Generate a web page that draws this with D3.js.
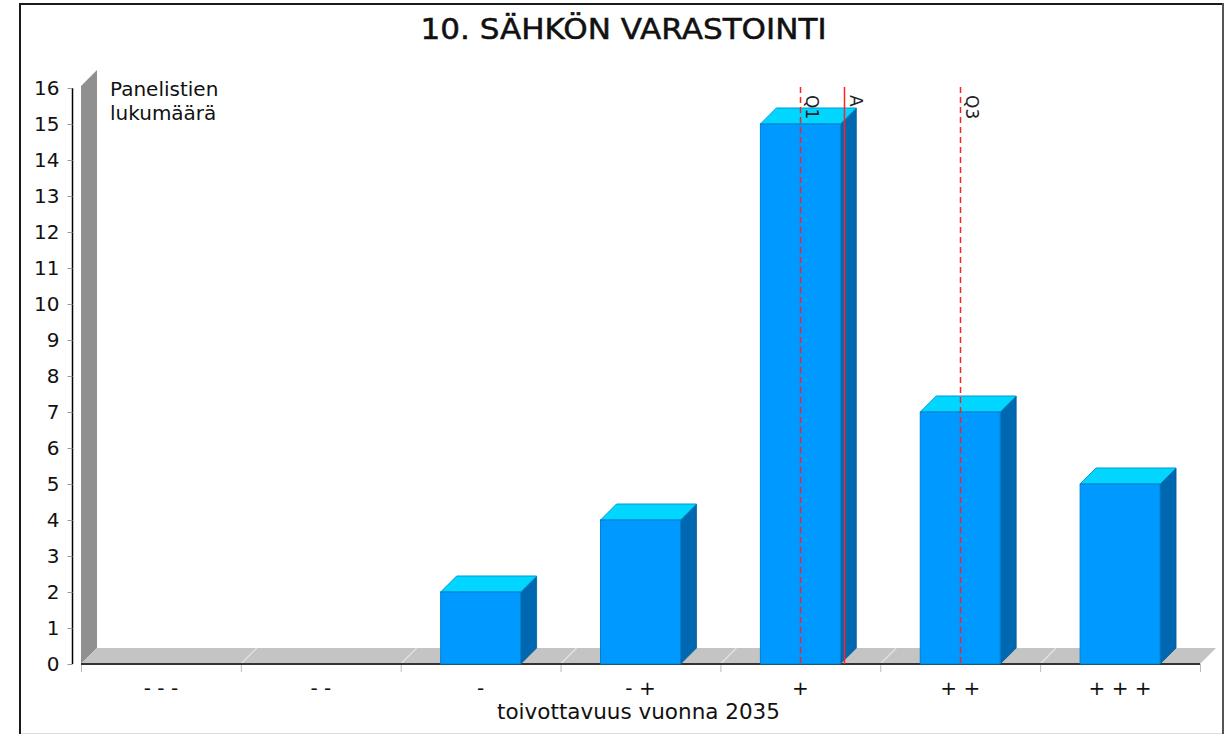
<!DOCTYPE html>
<html>
<head>
<meta charset="utf-8">
<script src="https://cdn.jsdelivr.net/npm/d3@7"></script>
<style>
  html, body { margin: 0; padding: 0; background: #fff; }
  svg { display: block; font-family: "DejaVu Sans", sans-serif; }
</style>
</head>
<body>
<svg id="chart" width="1226" height="734"></svg>
<script>
// Answer categories (desirability scale) and panel counts
const categories = ["- - -", "- -", "-", "- +", "+", "+ +", "+ + +"];
const counts = [0, 0, 2, 4, 15, 7, 5];
const yTicks = d3.range(0, 17);

const title = "10. SÄHKÖN VARASTOINTI";
const yTitle = ["Panelistien", "lukumäärä"];
const xTitle = "toivottavuus vuonna 2035";

(function draw() {
const svg = d3.select("#chart");
const depth = 16;
const plotLeft = 81, plotRight = 1200, plotBottom = 664, plotTop = 88;

// outer frame (left, top, right edges)
svg.append("path").attr("d", "M20,734V4H1222")
  .attr("fill", "none").attr("stroke", "#1a1a1a").attr("stroke-width", 2);
svg.append("line").attr("x1", 1223).attr("x2", 1223).attr("y1", 3).attr("y2", 734)
  .attr("stroke", "#555").attr("stroke-width", 2);
svg.append("line").attr("x1", 21).attr("x2", 1222).attr("y1", 733.5).attr("y2", 733.5)
  .attr("stroke", "#ddd");

const x = d3.scaleBand().domain(categories).range([plotLeft, plotRight]).padding(0);
const y = d3.scaleLinear().domain([0, 16]).range([plotBottom, plotTop]);
// numeric position (1..7) along the category axis, for statistics
const xPos = d3.scaleLinear().domain([0.5, categories.length + 0.5]).range([plotLeft, plotRight]);

// back wall and floor
svg.append("path")
  .attr("d", `M${plotLeft},${y(0)}L${plotLeft},${y(16) - 2}L${plotLeft + depth},${y(16) - depth - 2}L${plotLeft + depth},${y(0) - depth}Z`)
  .attr("fill", "#909090");
svg.append("path")
  .attr("d", `M${plotLeft},${y(0)}L${plotLeft + depth},${y(0) - depth}L${plotRight + depth},${y(0) - depth}L${plotRight},${y(0)}Z`)
  .attr("fill", "#c4c4c4");

// floor grid lines at category boundaries
const bounds = categories.map(c => x(c)).concat([plotRight]);
svg.append("g").selectAll("line").data(bounds.slice(1, -1)).join("line")
  .attr("x1", d => d).attr("y1", y(0))
  .attr("x2", d => d + depth).attr("y2", y(0) - depth)
  .attr("stroke", "#e4e4e4").attr("stroke-width", 1.2);

// x tick marks below the floor
svg.append("g").selectAll("line").data(bounds).join("line")
  .attr("x1", d => d + 0.5).attr("x2", d => d + 0.5)
  .attr("y1", y(0)).attr("y2", y(0) + 8)
  .attr("stroke", "#bbb");

// front edge of the floor
svg.append("line").attr("x1", plotLeft).attr("x2", plotRight).attr("y1", y(0)).attr("y2", y(0))
  .attr("stroke", "#333").attr("stroke-width", 2);

// y axis
const yAxis = svg.append("g").attr("transform", "translate(72.5,0)")
  .call(d3.axisLeft(y).tickValues(yTicks).tickSize(5).tickPadding(8).tickFormat(d3.format("d")));
yAxis.select(".domain").attr("stroke", "#000").attr("stroke-width", 1.5).attr("d", `M0,${y(16)}V${y(0)}`);
yAxis.selectAll(".tick line").attr("stroke", "#999");
yAxis.selectAll(".tick text").attr("font-size", 20).attr("font-family", "DejaVu Sans").attr("fill", "#111");

// 3D bars
const bw = x.bandwidth() * 0.5;
const bars = svg.append("g").selectAll("g").data(categories.map((c, i) => ({ c, v: counts[i] })).filter(d => d.v > 0)).join("g");
bars.each(function (d) {
  const g = d3.select(this);
  const x0 = x(d.c) + x.bandwidth() * 0.25, x1 = x0 + bw;
  const yt = y(d.v), yb = y(0);
  g.append("path")
    .attr("d", `M${x1},${yb}L${x1},${yt}L${x1 + depth},${yt - depth}L${x1 + depth},${yb - depth}Z`)
    .attr("fill", "#0068b0").attr("stroke", "#005a9a").attr("stroke-width", 0.8);
  g.append("path")
    .attr("d", `M${x0},${yt}L${x0 + depth},${yt - depth}L${x1 + depth},${yt - depth}L${x1},${yt}Z`)
    .attr("fill", "#00d6ff").attr("stroke", "#0099cc").attr("stroke-width", 1);
  g.append("rect").attr("x", x0).attr("y", yt).attr("width", bw).attr("height", yb - yt)
    .attr("fill", "#0099ff").attr("stroke", "#0080cc").attr("stroke-width", 1);
});

// statistics: quartiles and mean over the answer positions
const values = [];
counts.forEach((n, i) => { for (let k = 0; k < n; k++) values.push(i + 1); });
const stats = [
  { label: "Q1", v: d3.quantile(values, 0.25), dash: "6,4" },
  { label: "A", v: d3.mean(values), dash: null },
  { label: "Q3", v: d3.quantile(values, 0.75), dash: "6,4" }
];
const sg = svg.append("g").selectAll("g").data(stats).join("g");
sg.append("line")
  .attr("x1", d => Math.round(xPos(d.v)) + 0.5).attr("x2", d => Math.round(xPos(d.v)) + 0.5)
  .attr("y1", y(16) - 1).attr("y2", y(0))
  .attr("stroke", "#ff2020").attr("stroke-width", 1.5)
  .attr("stroke-dasharray", d => d.dash);
sg.append("text")
  .attr("transform", d => `translate(${Math.round(xPos(d.v)) + 6},${y(16) + 7}) rotate(90)`)
  .attr("font-size", 17).attr("fill", "#222")
  .text(d => d.label);

// category labels
svg.append("g").selectAll("text").data(categories).join("text")
  .attr("x", d => x(d) + x.bandwidth() / 2).attr("y", 695)
  .attr("text-anchor", "middle").attr("font-size", 20).attr("fill", "#111")
  .text(d => d);

// titles
svg.append("text").attr("transform", "translate(623.5,39) scale(1.13,1)").attr("text-anchor", "middle")
  .attr("font-size", 27.5).attr("font-weight", "normal").attr("stroke", "#111").attr("stroke-width", 0.5)
  .attr("fill", "#111").text(title);
svg.append("text").attr("x", 110).attr("y", 96).attr("font-size", 20).attr("fill", "#111").text(yTitle[0]);
svg.append("text").attr("x", 110).attr("y", 120).attr("font-size", 20).attr("fill", "#111").text(yTitle[1]);
svg.append("text").attr("x", 638.5).attr("y", 719).attr("text-anchor", "middle")
  .attr("font-size", 21.5).attr("fill", "#111").text(xTitle);
})();
</script>
</body>
</html>
